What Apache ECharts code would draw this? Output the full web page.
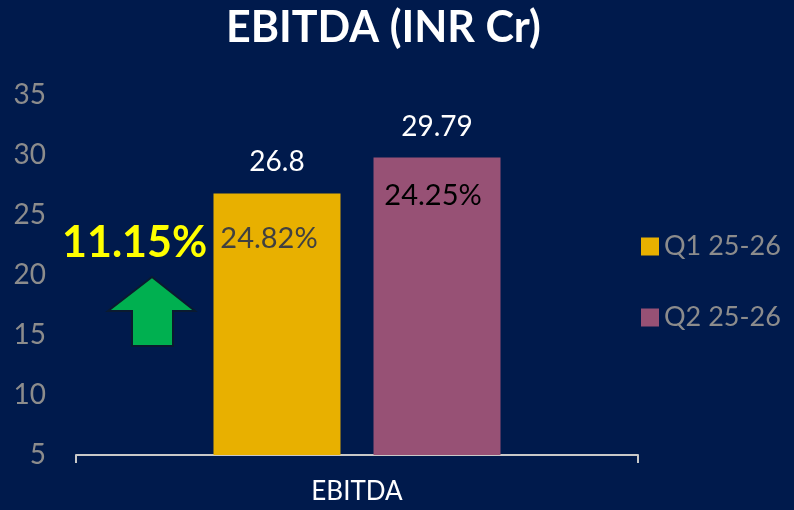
<!DOCTYPE html>
<html>
<head>
<meta charset="utf-8">
<script src="https://cdn.jsdelivr.net/npm/echarts@6/dist/echarts.min.js"></script>
<style>
  html, body { margin: 0; padding: 0; background: #001a4c; }
  #chart { width: 794px; height: 510px; }
</style>
</head>
<body>
<div id="chart"></div>
<script>
// 数据
const categories = ['EBITDA'];
const seriesNames = ['Q1 25-26', 'Q2 25-26'];
const ebitdaValues = [26.8, 29.79];
const marginLabels = ['24.82%', '24.25%'];
const growthLabel = '11.15%';
const yTicks = { min: 5, max: 35, interval: 5 };

const colors = ['#e8b000', '#975175'];
const marginColors = ['#404040', '#000000'];
const gapHeights = [46, 39];
const marginShift = [16, 8];

const FONT = 'Lato, "Open Sans", sans-serif';

const chart = echarts.init(document.getElementById('chart'));

const series = seriesNames.map((name, i) => ({
    name: name,
    type: 'bar',
    barWidth: 127,
    barGap: '26%',
    itemStyle: { color: colors[i] },
    data: [{
        value: ebitdaValues[i],
        label: {
            show: true,
            position: ['50%', -47],
            align: 'center',
            verticalAlign: 'top',
            formatter: () => `{v|${ebitdaValues[i]}}\n{g| }\n{m|${marginLabels[i]}}`,
            rich: {
                v: { color: '#ffffff', fontSize: 28, lineHeight: 32, fontFamily: FONT },
                g: { fontSize: 10, lineHeight: gapHeights[i] - 2 },
                m: { color: marginColors[i], fontSize: 29, lineHeight: 32, fontFamily: FONT, padding: [0, marginShift[i], 0, 0] }
            }
        }
    }]
}));

chart.setOption({
    backgroundColor: '#001a4c',
    animation: false,
    title: {
        text: 'EBITDA (INR Cr)',
        left: 221,
        top: 2,
        textStyle: { color: '#ffffff', fontSize: 43, fontWeight: 'bold', fontFamily: FONT }
    },
    legend: {
        orient: 'vertical',
        left: 636,
        top: 228,
        itemWidth: 18,
        itemHeight: 18,
        itemGap: 44,
        icon: 'rect',
        textStyle: { color: '#8c8c8c', fontSize: 27, fontFamily: FONT },
        data: seriesNames
    },
    grid: { left: 76, right: 156, top: 95, bottom: 55 },
    xAxis: {
        type: 'category',
        data: categories,
        axisLine: { lineStyle: { color: '#c8c8c8', width: 2 } },
        axisTick: { show: true, length: 8, lineStyle: { color: '#c8c8c8', width: 2 } },
        axisLabel: { color: '#ffffff', fontSize: 26, fontFamily: FONT, margin: 24 }
    },
    yAxis: {
        type: 'value',
        min: yTicks.min,
        max: yTicks.max,
        interval: yTicks.interval,
        axisLine: { show: false },
        axisTick: { show: false },
        splitLine: { show: false },
        axisLabel: { color: '#8c8c8c', fontSize: 28, fontFamily: FONT, margin: 30 }
    },
    graphic: [
        {
            type: 'text',
            left: 62,
            top: 222,
            style: { text: growthLabel, fill: '#ffff00', fontSize: 43, fontWeight: 'bold', fontFamily: FONT }
        },
        {
            type: 'polygon',
            shape: { points: [[152, 277], [195, 311], [173, 311], [173, 346], [132, 346], [132, 311], [108, 311]] },
            style: { fill: '#00b050', stroke: '#0a1a30', lineWidth: 2 }
        }
    ],
    series: series
});
</script>
</body>
</html>
